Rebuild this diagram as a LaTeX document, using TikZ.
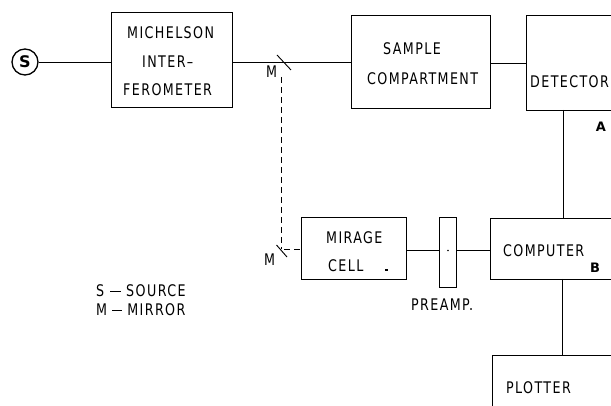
\documentclass[tikz,border=0pt]{standalone}
\usepackage{fontspec}
\usepackage{graphicx}
\setmainfont{DejaVu Sans}
\newfontfamily\lab[LetterSpace=10]{DejaVu Sans Condensed}
\newcommand{\nar}[1]{\scalebox{0.88}[1]{#1}}
\begin{document}
\begin{tikzpicture}[x=1pt,y=-1pt,
  blk/.style={draw,line width=0.9pt,inner sep=0pt},
  txt/.style={font=\lab\fontsize{16}{16}\selectfont,inner sep=0pt,anchor=base west},
  conn/.style={line width=0.8pt},
  dashconn/.style={line width=0.8pt,dash pattern=on 6pt off 4pt},
  mirr/.style={line width=0.9pt},
  tag/.style={font=\bfseries\fontsize{13}{13}\selectfont,inner sep=0pt}]
\useasboundingbox (0,0) rectangle (611,406);
\clip (0,0) rectangle (611,406);
% source
\node[draw,circle,line width=1.3pt,minimum size=26pt,inner sep=0pt,font=\bfseries\fontsize{16}{16}\selectfont] (s) at (25,62) {S};
% boxes
\draw[blk] (111,12) rectangle (232,107);
\coordinate (michW) at (111,62); \coordinate (michE) at (232,62);
\draw[blk] (351,15) rectangle (490,108);
\coordinate (sampW) at (351,62); \coordinate (sampE) at (490,63);
\draw[blk] (526,15) rectangle (640,110);
\coordinate (detW) at (526,63); \coordinate (detS) at (563,110);
\draw[blk] (301,217) rectangle (406,279);
\coordinate (mirW) at (301,249); \coordinate (mirE) at (406,250);
\draw[blk] (439.5,217) rectangle (456.5,287);
\coordinate (preW) at (439.5,250); \coordinate (preE) at (456.5,250);
\draw[blk] (490,218) rectangle (640,279);
\coordinate (compW) at (490,250); \coordinate (compN) at (563,218); \coordinate (compS) at (562,279);
\draw[blk] (492,355) rectangle (640,430);
\coordinate (plotN) at (562,355);
% mirrors
\coordinate (m1) at (281,62);
\coordinate (m2) at (281,249);
\draw[mirr] (277,55) -- (291,70);
\draw[mirr] (276.5,245) -- (287,257);
% labels
\node[txt] (t1) at (127,38.5) {\nar{MICHELSON}};
\node[txt] (t2) at (142,67.5) {\nar{INTER–}};
\node[txt] (t3) at (123,96) {\nar{FEROMETER}};
\node[txt] (t4) at (383,55) {\nar{SAMPLE}};
\node[txt] (t5) at (367,84.5) {\nar{COMPARTMENT}};
\node[txt] (t6) at (530,88) {\nar{DETECTOR}};
\node[txt] (t7) at (326,244) {\nar{MIRAGE}};
\node[txt] (t8) at (328,272) {\nar{CELL}};
\node[txt] (t9) at (503,257) {\nar{COMPUTER}};
\node[txt] (t10) at (506,393) {\nar{PLOTTER}};
\node[txt] (t11) at (411,311) {\nar{PREAMP.}};
\node[txt] (t12) at (96,296.5) {\nar{S\hspace{7pt}\rule[4.5pt]{12pt}{0.8pt}\hspace{6pt}SOURCE}};
\node[txt] (t13) at (96,315.5) {\nar{M\hspace{6pt}\rule[4.5pt]{11pt}{0.8pt}\hspace{6pt}MIRROR}};
\node[txt] (mA) at (266,78) {\nar{M}};
\node[txt] (mB) at (264,265.5) {\nar{M}};
\node[tag] (ta) at (601,127) {A};
\node[tag] (tb) at (595,268) {B};
% connectors
\draw[conn] (s.east) -- (michW);
\draw[conn] (michE) -- (sampW);
\draw[conn] (sampE) -- (detW);
\draw[conn] (detS) -- (compN);
\draw[conn] (mirE) -- (preW);
\draw[conn] (preE) -- (compW);
\draw[conn] (compS) -- (plotN);
\draw[dashconn] ([yshift=-15pt]m1) -- (m2);
\draw[dashconn] ([xshift=3pt]m2) -- (mirW);
% small marks
\fill (448,250.5) circle (0.9pt);
\fill (385,269.5) rectangle (388,270.7);
\end{tikzpicture}
\end{document}
